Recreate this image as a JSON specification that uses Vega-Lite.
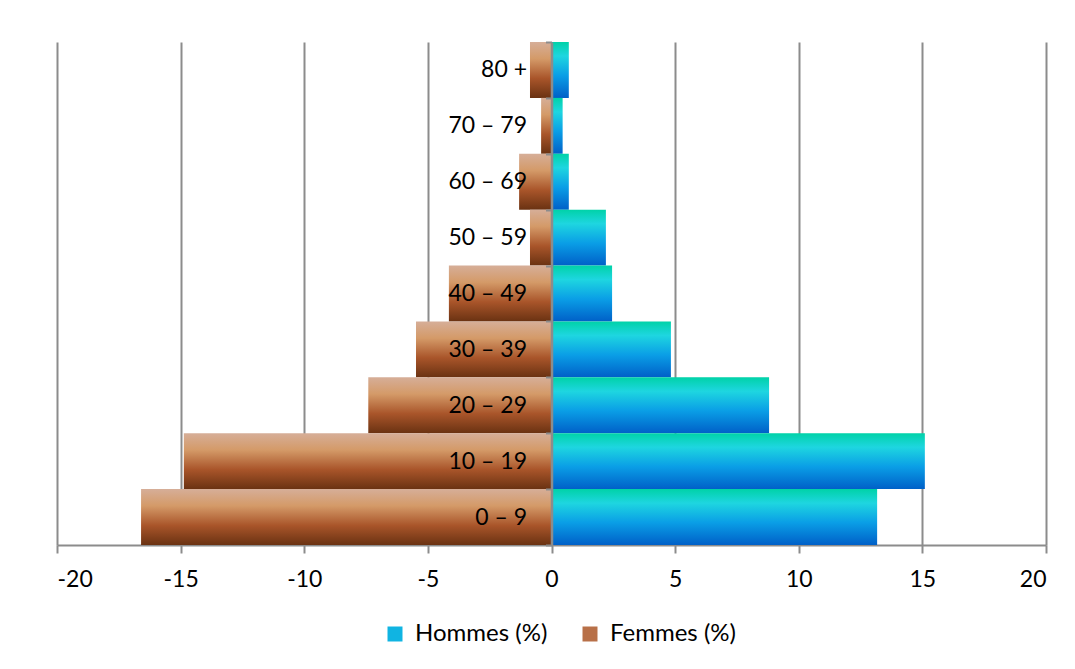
{
  "$schema": "https://vega.github.io/schema/vega-lite/v6.json",
  "width": 989,
  "height": 503,
  "autosize": {"type": "none"},
  "padding": {"left": 57, "top": 42, "right": 29, "bottom": 124},
  "background": "white",
  "config": {
    "view": {"stroke": null},
    "font": "Lato"
  },
  "data": {
    "values": [
      {"age": "80 +", "sexe": "Hommes (%)", "valeur": 0.7},
      {"age": "70 – 79", "sexe": "Hommes (%)", "valeur": 0.45},
      {"age": "60 – 69", "sexe": "Hommes (%)", "valeur": 0.7},
      {"age": "50 – 59", "sexe": "Hommes (%)", "valeur": 2.2},
      {"age": "40 – 49", "sexe": "Hommes (%)", "valeur": 2.45},
      {"age": "30 – 39", "sexe": "Hommes (%)", "valeur": 4.83},
      {"age": "20 – 29", "sexe": "Hommes (%)", "valeur": 8.8},
      {"age": "10 – 19", "sexe": "Hommes (%)", "valeur": 15.1},
      {"age": "0 – 9", "sexe": "Hommes (%)", "valeur": 13.17},
      {"age": "80 +", "sexe": "Femmes (%)", "valeur": -0.87},
      {"age": "70 – 79", "sexe": "Femmes (%)", "valeur": -0.42},
      {"age": "60 – 69", "sexe": "Femmes (%)", "valeur": -1.31},
      {"age": "50 – 59", "sexe": "Femmes (%)", "valeur": -0.87},
      {"age": "40 – 49", "sexe": "Femmes (%)", "valeur": -4.15},
      {"age": "30 – 39", "sexe": "Femmes (%)", "valeur": -5.48},
      {"age": "20 – 29", "sexe": "Femmes (%)", "valeur": -7.41},
      {"age": "10 – 19", "sexe": "Femmes (%)", "valeur": -14.87},
      {"age": "0 – 9", "sexe": "Femmes (%)", "valeur": -16.6}
    ]
  },
  "encoding": {
    "y": {
      "field": "age",
      "type": "nominal",
      "sort": ["80 +", "70 – 79", "60 – 69", "50 – 59", "40 – 49", "30 – 39", "20 – 29", "10 – 19", "0 – 9"],
      "scale": {"paddingInner": 0, "paddingOuter": 0},
      "axis": {
        "title": null,
        "offset": -494.5,
        "zindex": 2,
        "domainColor": "#8c8c8c",
        "domainWidth": 2.5,
        "tickColor": "#8c8c8c",
        "tickWidth": 2,
        "tickSize": 6,
        "tickBand": "extent",
        "labelFontSize": 23,
        "labelColor": "#000000",
        "labelPadding": 19,
        "labelFont": "Lato"
      }
    },
    "x": {
      "field": "valeur",
      "type": "quantitative",
      "scale": {"domain": [-20, 20], "nice": false},
      "axis": {
        "title": null,
        "values": [-20, -15, -10, -5, 0, 5, 10, 15, 20],
        "labelExpr": "'' + datum.value",
        "grid": true,
        "gridColor": "#8c8c8c",
        "gridWidth": 2,
        "domainColor": "#8c8c8c",
        "domainWidth": 2,
        "tickColor": "#8c8c8c",
        "tickWidth": 2,
        "tickSize": 8,
        "labelFontSize": 23,
        "labelColor": "#000000",
        "labelPadding": 15,
        "labelFont": "Lato"
      }
    }
  },
  "layer": [
    {
      "mark": {"type": "bar"},
      "encoding": {
        "fill": {
          "condition": {
            "test": "datum.sexe === 'Hommes (%)'",
            "value": {"gradient": "linear", "x1": 0, "y1": 0, "x2": 0, "y2": 1, "stops": [
              {"offset": 0, "color": "#00d2a8"},
              {"offset": 0.25, "color": "#1ed6e0"},
              {"offset": 0.6, "color": "#0a9ee6"},
              {"offset": 1, "color": "#0060c8"}
            ]}
          },
          "value": {"gradient": "linear", "x1": 0, "y1": 0, "x2": 0, "y2": 1, "stops": [
            {"offset": 0, "color": "#d6ae98"},
            {"offset": 0.3, "color": "#d49a68"},
            {"offset": 0.65, "color": "#a9552a"},
            {"offset": 1, "color": "#6a3212"}
          ]}
        }
      }
    },
    {
      "mark": {"type": "point", "shape": "square", "filled": true, "opacity": 0},
      "encoding": {
        "color": {
          "field": "sexe",
          "type": "nominal",
          "scale": {
            "domain": ["Hommes (%)", "Femmes (%)"],
            "range": ["#10b4e2", "#b87048"]
          },
          "legend": {
            "title": null,
            "orient": "none",
            "legendX": 326,
            "legendY": 580,
            "direction": "horizontal",
            "symbolType": "square",
            "symbolSize": 225,
            "symbolOpacity": 1,
            "symbolStrokeWidth": 0,
            "labelFontSize": 24,
            "labelOffset": 8,
            "labelColor": "#000000",
            "labelFont": "Lato",
            "columnPadding": 30,
            "encode": {
              "symbols": {
                "update": {
                  "fill": [
                    {
                      "test": "datum.value === 'Hommes (%)'",
                      "value": {"gradient": "linear", "x1": 0, "y1": 0, "x2": 0, "y2": 1, "stops": [
                        {"offset": 0, "color": "#00d2a8"},
                        {"offset": 0.3, "color": "#1ed6e0"},
                        {"offset": 1, "color": "#0060c8"}
                      ]}
                    },
                    {
                      "value": {"gradient": "linear", "x1": 0, "y1": 0, "x2": 0, "y2": 1, "stops": [
                        {"offset": 0, "color": "#d6ae98"},
                        {"offset": 0.3, "color": "#d49a68"},
                        {"offset": 1, "color": "#7a3a16"}
                      ]}
                    }
                  ]
                }
              }
            }
          }
        }
      }
    }
  ]
}
